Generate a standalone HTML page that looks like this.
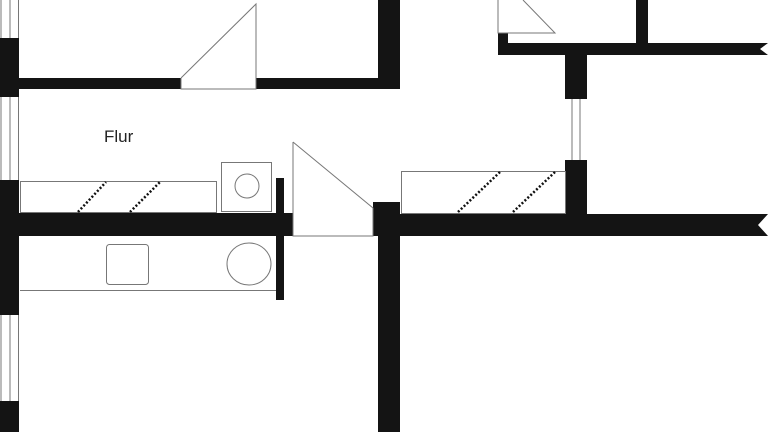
<!DOCTYPE html>
<html><head><style>html,body{margin:0;padding:0;background:#fff;width:768px;height:432px;overflow:hidden}</style></head>
<body>
<svg width="768" height="432" viewBox="0 0 768 432" xmlns="http://www.w3.org/2000/svg">
<g fill="#141414" stroke="none">
<!-- left wall -->
<rect x="0" y="38" width="19" height="59"/>
<rect x="0" y="180" width="19" height="135"/>
<rect x="0" y="401" width="19" height="31"/>
<!-- top wall -->
<rect x="18" y="78" width="163" height="11"/>
<rect x="256" y="78" width="144" height="11"/>
<rect x="378" y="0" width="22" height="89"/>
<!-- mid wall -->
<rect x="18" y="213" width="275" height="23"/>
<rect x="276" y="178" width="8" height="122"/>
<rect x="373" y="202" width="27" height="34"/>
<polygon points="373,214 768,214 758,225 768,236 373,236"/>
<rect x="378" y="236" width="22" height="196"/>
<!-- right top -->
<rect x="498" y="33" width="10" height="22"/>
<polygon points="498,43 768,43 760,49 768,55 498,55"/>
<rect x="636" y="0" width="12" height="44"/>
<rect x="565" y="55" width="22" height="44"/>
<rect x="565" y="160" width="22" height="55"/>
</g>
<g fill="none" stroke="#777" stroke-width="1">
<!-- windows -->
<line x1="1" y1="0" x2="1" y2="38"/><line x1="10" y1="0" x2="10" y2="38"/><line x1="18.5" y1="0" x2="18.5" y2="38"/>
<line x1="1" y1="97" x2="1" y2="180"/><line x1="10" y1="97" x2="10" y2="180"/><line x1="18.5" y1="97" x2="18.5" y2="180"/>
<line x1="1" y1="315" x2="1" y2="401"/><line x1="10" y1="315" x2="10" y2="401"/><line x1="18.5" y1="315" x2="18.5" y2="401"/>
<line x1="572" y1="99" x2="572" y2="160"/><line x1="580" y1="99" x2="580" y2="160"/>
<!-- doors -->
<polyline points="181,78 256,4 256,89 181,89 181,78"/>
<polyline points="293,142 373,208 373,236 293,236 293,142"/>
<polyline points="498,0 498,33 555,33 523,0"/>
<!-- shelves -->
<rect x="20.5" y="181.5" width="196" height="31"/>
<rect x="401.5" y="171.5" width="164" height="42"/>
<rect x="221.5" y="162.5" width="50" height="49"/>
<circle cx="247" cy="186" r="12"/>
<line x1="20" y1="290.5" x2="276" y2="290.5"/>
<rect x="106.5" y="244.5" width="42" height="40" rx="3"/>
<ellipse cx="249" cy="264" rx="22" ry="21"/>
</g>
<g stroke="#111" stroke-width="2.5" stroke-dasharray="2,2">
<line x1="78" y1="212" x2="106" y2="182"/>
<line x1="130" y1="212" x2="160" y2="182"/>
<line x1="458" y1="212" x2="500" y2="172"/>
<line x1="513" y1="212" x2="555" y2="172"/>
</g>
<text x="104" y="142" font-family="Liberation Sans, sans-serif" font-size="17" fill="#222">Flur</text>
</svg>
</body></html>
